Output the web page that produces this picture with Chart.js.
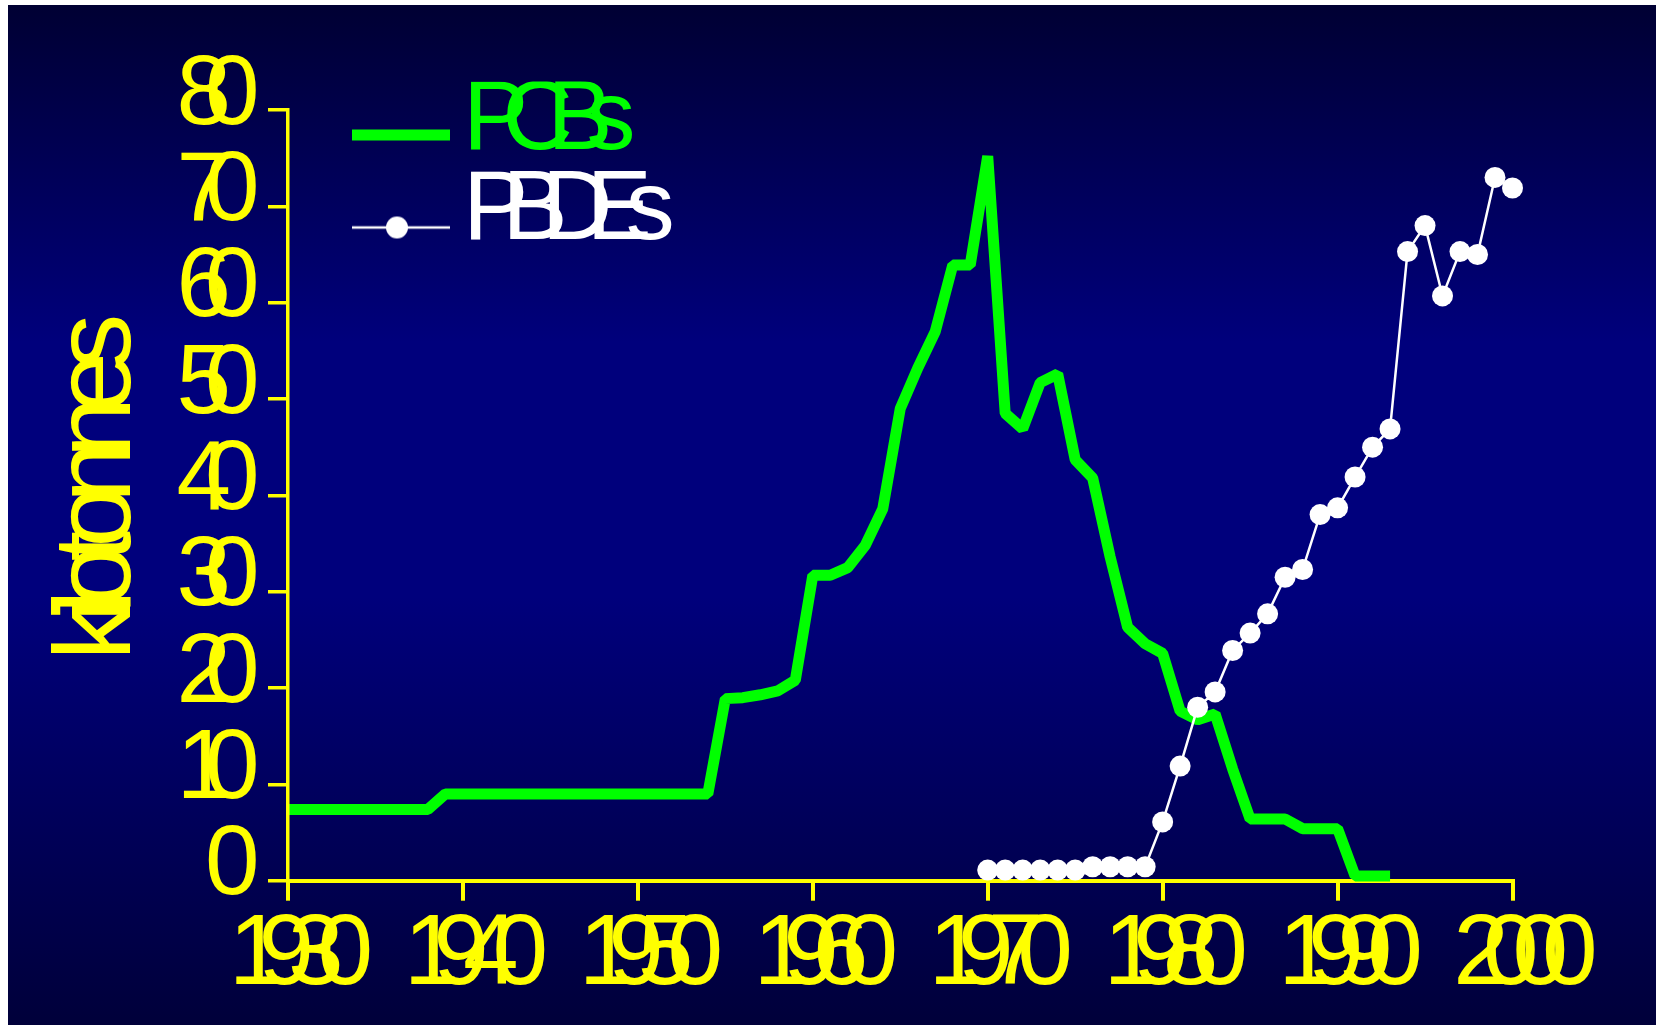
<!DOCTYPE html>
<html>
<head>
<meta charset="utf-8">
<title>PCBs and PBDEs</title>
<script src="https://cdn.jsdelivr.net/npm/chart.js@4.4.1/dist/chart.umd.min.js"></script>
<style>
  html, body { margin: 0; padding: 0; background: #ffffff; }
  #wrap {
    position: absolute; left: 8px; top: 5px; width: 1648px; height: 1020px;
    background: linear-gradient(to bottom, #000033 0%, #00007c 33%, #00007c 58%, #00003a 100%);
  }
</style>
</head>
<body>
<div id="wrap"><canvas id="myChart"></canvas></div>
<script>
var pcbYears = [1930, 1931, 1932, 1933, 1934, 1935, 1936, 1937, 1938, 1939,
                1940, 1941, 1942, 1943, 1944, 1945, 1946, 1947, 1948, 1949,
                1950, 1951, 1952, 1953, 1954, 1955, 1956, 1957, 1958, 1959,
                1960, 1961, 1962, 1963, 1964, 1965, 1966, 1967, 1968, 1969,
                1970, 1971, 1972, 1973, 1974, 1975, 1976, 1977, 1978, 1979,
                1980, 1981, 1982, 1983, 1984, 1985, 1986, 1987, 1988, 1989,
                1990, 1991, 1992, 1993];
var pcbValues = [7.4, 7.4, 7.4, 7.4, 7.4, 7.4, 7.4, 7.4, 7.4, 9.0,
                 9.0, 9.0, 9.0, 9.0, 9.0, 9.0, 9.0, 9.0, 9.0, 9.0,
                 9.0, 9.0, 9.0, 9.0, 9.0, 18.9, 19.0, 19.3, 19.7, 20.8,
                 31.7, 31.7, 32.5, 34.8, 38.6, 49.0, 53.2, 57.0, 63.9, 63.9,
                 75.2, 48.5, 46.9, 51.7, 52.6, 43.7, 41.8, 33.6, 26.3, 24.6,
                 23.6, 17.6, 16.7, 17.3, 11.6, 6.4, 6.4, 6.4, 5.4, 5.4,
                 5.4, 0.5, 0.5, 0.5];

var pbdeYears = [1970, 1971, 1972, 1973, 1974, 1975, 1976, 1977, 1978, 1979,
                 1980, 1981, 1982, 1983, 1984, 1985, 1986, 1987, 1988, 1989,
                 1990, 1991, 1992, 1993, 1994, 1995, 1996, 1997, 1998, 1999,
                 2000];
var pbdeValues = [1.1, 1.1, 1.1, 1.1, 1.1, 1.1, 1.45, 1.45, 1.45, 1.45,
                  6.1, 11.9, 18.0, 19.6, 23.9, 25.7, 27.7, 31.5, 32.3, 38.0,
                  38.7, 41.9, 45.0, 46.9, 65.3, 68.0, 60.7, 65.3, 65.0, 73.0,
                  71.9];

var seriesNames = ['PCBs', 'PBDEs'];
var yAxisTitle = 'kilotonnes';

var yellow = '#ffff00';
var green = '#00ff00';
var fontFamily = "'Liberation Sans', Arial, sans-serif";

function toPoints(xs, ys) {
  return xs.map(function (x, i) { return { x: x, y: ys[i] }; });
}

// small pictures used as legend symbols (thick line / line with dot)
function legendIcon(kind) {
  var c = document.createElement('canvas');
  c.width = 180;
  c.height = 60;
  var g = c.getContext('2d');
  if (kind === 'bar') {
    g.fillStyle = green;
    g.fillRect(78, 37.5, 98, 11);
  } else {
    g.strokeStyle = '#ffffff';
    g.lineWidth = 2.5;
    g.beginPath();
    g.moveTo(78, 46);
    g.lineTo(176, 46);
    g.stroke();
    g.fillStyle = '#ffffff';
    g.beginPath();
    g.arc(123, 46, 11, 0, Math.PI * 2);
    g.fill();
  }
  return c;
}
var legendIcons = [legendIcon('bar'), legendIcon('dot')];

// squeezed lettering like the original slide
var squeeze = {
  id: 'squeeze',
  beforeDraw: function (chart) { chart.ctx.letterSpacing = '-26px'; },
  afterDatasetsDraw: function (chart) { chart.ctx.letterSpacing = '-16.5px'; },
  afterDraw: function (chart) { chart.ctx.letterSpacing = '0px'; }
};

var legendSpot = {
  id: 'legendSpot',
  afterLayout: function (chart) {
    chart.legend.left = 314.5;
    chart.legend.top = 76.5;
  }
};

var ctx = document.getElementById('myChart').getContext('2d');
var myChart = new Chart(ctx, {
  type: 'line',
  data: {
    datasets: [{
      label: seriesNames[0],
      data: toPoints(pcbYears, pcbValues),
      borderColor: green,
      backgroundColor: green,
      borderWidth: 11,
      borderJoinStyle: 'bevel',
      pointRadius: 0,
      tension: 0,
      order: 2,
      clip: false
    }, {
      label: seriesNames[1],
      data: toPoints(pbdeYears, pbdeValues),
      borderColor: '#ffffff',
      backgroundColor: '#ffffff',
      borderWidth: 2.5,
      pointRadius: 10.5,
      pointBackgroundColor: '#ffffff',
      pointBorderWidth: 0,
      tension: 0,
      order: 1,
      clip: false
    }]
  },
  options: {
    responsive: true,
    maintainAspectRatio: false,
    animation: false,
    events: [],
    layout: { padding: { left: 0, top: 105, right: 143.5, bottom: 0 } },
    plugins: {
      tooltip: { enabled: false },
      legend: {
        position: 'chartArea',
        align: 'start',
        labels: {
          usePointStyle: true,
          pointStyleWidth: 100,
          padding: -8.5,
          font: { family: fontFamily, size: 98, lineHeight: 1 },
          generateLabels: function (chart) {
            return chart.data.datasets.map(function (ds, i) {
              return {
                text: ds.label,
                fontColor: ds.borderColor,
                fillStyle: 'rgba(0,0,0,0)',
                strokeStyle: 'rgba(0,0,0,0)',
                lineWidth: 0,
                pointStyle: legendIcons[i],
                hidden: false,
                datasetIndex: i
              };
            });
          }
        }
      }
    },
    scales: {
      x: {
        type: 'linear',
        min: 1930,
        max: 2000,
        afterFit: function (scale) { scale.height = 144.3; },
        border: { display: true, color: yellow, width: 4 },
        grid: { drawOnChartArea: false, drawTicks: true, tickLength: 20, color: yellow, lineWidth: 4 },
        ticks: {
          stepSize: 10,
          color: yellow,
          padding: 6,
          autoSkip: false,
          maxRotation: 0,
          minRotation: 0,
          font: { family: fontFamily, size: 100, lineHeight: 1 },
          callback: function (v) { return String(v); }
        }
      },
      y: {
        min: 0,
        max: 80,
        afterFit: function (scale) { scale.width = 280; },
        border: { display: true, color: yellow, width: 3.5, z: 1 },
        grid: { drawOnChartArea: false, drawTicks: true, tickLength: 20, color: yellow, lineWidth: 3.5, z: 1 },
        ticks: {
          stepSize: 10,
          color: yellow,
          padding: 34.6,
          labelOffset: -13.5,
          autoSkip: false,
          font: { family: fontFamily, size: 98, lineHeight: 1 },
          callback: function (v) { return String(v); }
        },
        title: {
          display: true,
          text: yAxisTitle,
          color: yellow,
          font: { family: fontFamily, size: 110, lineHeight: 1 },
          padding: { top: 37, bottom: 0 }
        }
      }
    }
  },
  plugins: [squeeze, legendSpot]
});
</script>
</body>
</html>
